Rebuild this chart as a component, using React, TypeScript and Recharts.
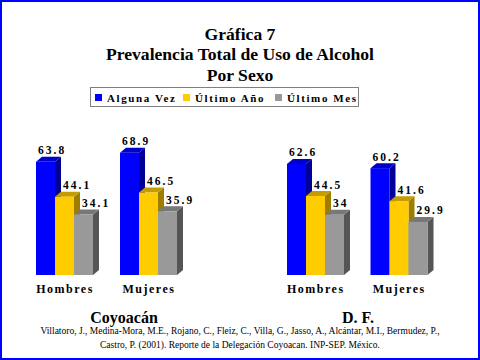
import { BarChart, Bar, XAxis, YAxis, LabelList } from 'recharts';

const sexes = ['Hombres', 'Mujeres'];
const coyoacanAlguna = [63.8, 68.9];
const coyoacanAnio = [44.1, 46.5];
const coyoacanMes = [34.1, 35.9];
const dfAlguna = [62.6, 60.2];
const dfAnio = [44.5, 41.6];
const dfMes = [34, 29.9];

const seriesNames = ['Alguna Vez', 'Último Año', 'Último Mes'];
const seriesKeys = ['alguna', 'anio', 'mes'];
// front, top, side
const seriesColors = [
  ['#0000FF', '#0000C8', '#000096'],
  ['#FFCC00', '#C49C00', '#9E7E00'],
  ['#999999', '#787878', '#555555'],
];
// how far right of the bar's left edge the value label starts
const labelShift = [2, 8, 8];

const titleLines = ['Gráfica 7', 'Prevalencia Total de Uso de Alcohol', 'Por Sexo'];
const citation = [
  'Villatoro, J., Medina-Mora, M.E., Rojano, C., Fleiz, C., Villa, G., Jasso, A., Alcántar, M.I., Bermudez, P.,',
  'Castro, P. (2001). Reporte de la Delegación Coyoacan. INP-SEP. México.',
];

const build = (a: number[], b: number[], c: number[]) =>
  sexes.map((s, i) => ({ sex: s, alguna: a[i], anio: b[i], mes: c[i] }));

const coyoacanData = build(coyoacanAlguna, coyoacanAnio, coyoacanMes);
const dfData = build(dfAlguna, dfAnio, dfMes);

const FONT = "'Liberation Serif', 'DejaVu Serif', serif";
const DX = 6;
const DY = 5;

const make3D = (colors: string[]) => (props: any) => {
  const { x, y, width, height } = props;
  if (!height || height <= 0) return null;
  return (
    <g>
      <polygon
        points={`${x + width},${y} ${x + width + DX},${y - DY} ${x + width + DX},${y + height - DY} ${x + width},${y + height}`}
        fill={colors[2]}
      />
      <polygon
        points={`${x},${y} ${x + DX},${y - DY} ${x + width + DX},${y - DY} ${x + width},${y}`}
        fill={colors[1]}
      />
      <rect x={x} y={y} width={width} height={height} fill={colors[0]} />
    </g>
  );
};

const makeLabel = (shift: number) => (props: any) => {
  const { x, y, value } = props;
  return (
    <text
      x={x + shift}
      y={y - DY - 2.5}
      textAnchor="start"
      fill="#000"
      style={{ fontFamily: FONT, fontWeight: 'bold', fontSize: 11.5, letterSpacing: '2px' }}
    >
      {String(value)}
    </text>
  );
};

const sexTick = (props: any) => {
  const { x, y, payload } = props;
  return (
    <text
      x={x + 1}
      y={y + 18}
      textAnchor="middle"
      fill="#000"
      style={{ fontFamily: FONT, fontWeight: 'bold', fontSize: 12, letterSpacing: '1.5px' }}
    >
      {payload.value}
    </text>
  );
};

function Group({ data, left, right }: { data: any[]; left: number; right: number }) {
  return (
    <BarChart
      width={240}
      height={360}
      data={data}
      margin={{ top: 133, right, bottom: 55, left }}
      barCategoryGap={14}
      barGap={0}
    >
      <XAxis dataKey="sex" axisLine={false} tickLine={false} tickSize={0} tickMargin={0} height={30} tick={sexTick} />
      <YAxis hide domain={[0, 80]} />
      {seriesKeys.map((k, i) => (
        <Bar key={k} dataKey={k} shape={make3D(seriesColors[i])} isAnimationActive={false}>
          <LabelList dataKey={k} content={makeLabel(labelShift[i])} />
        </Bar>
      ))}
    </BarChart>
  );
}

const bold = (size: number, extra: any = {}) => ({ fontFamily: FONT, fontWeight: 'bold', fontSize: size, ...extra });

export default function App() {
  return (
    <div style={{ position: 'absolute', left: 0, top: 0, width: 480, height: 360, background: '#fff', overflow: 'hidden', fontFamily: FONT }}>
      <div style={{ position: 'absolute', left: 0, top: 0 }}>
        <Group data={coyoacanData} left={22} right={50} />
      </div>
      <div style={{ position: 'absolute', left: 240, top: 0 }}>
        <Group data={dfData} left={33} right={40} />
      </div>
      <svg width={480} height={360} style={{ position: 'absolute', left: 0, top: 0, pointerEvents: 'none' }}>
        {titleLines.map((t, i) => (
          <text key={t} x={240} y={39.5 + i * 20.5} textAnchor="middle" fill="#000" style={bold(17.6)}>
            {t}
          </text>
        ))}
        <rect x={90.5} y={87.5} width={268} height={19} fill="#fff" stroke="#808080" strokeWidth={1} />
        {seriesNames.map((n, i) => {
          const sx = [95, 183, 275][i];
          return (
            <g key={n}>
              <rect x={sx} y={94} width={7} height={7} fill={seriesColors[i][0]} />
              <text x={sx + 12} y={101.5} fill="#000" style={bold(11, { letterSpacing: '1.6px' })}>
                {n}
              </text>
            </g>
          );
        })}
        <text x={124} y={323} textAnchor="middle" fill="#000" style={bold(16)}>
          Coyoacán
        </text>
        <text x={358} y={323} textAnchor="middle" fill="#000" style={bold(16)}>
          D. F.
        </text>
        {citation.map((c, i) => (
          <text key={i} x={240} y={334 + i * 14} textAnchor="middle" fill="#000" style={{ fontFamily: FONT, fontSize: 9.5 }}>
            {c}
          </text>
        ))}
      </svg>
      <div style={{ position: 'absolute', left: 0, top: 0, width: 480, height: 360, boxSizing: 'border-box', border: '2px solid #0000FF', pointerEvents: 'none' }} />
    </div>
  );
}
